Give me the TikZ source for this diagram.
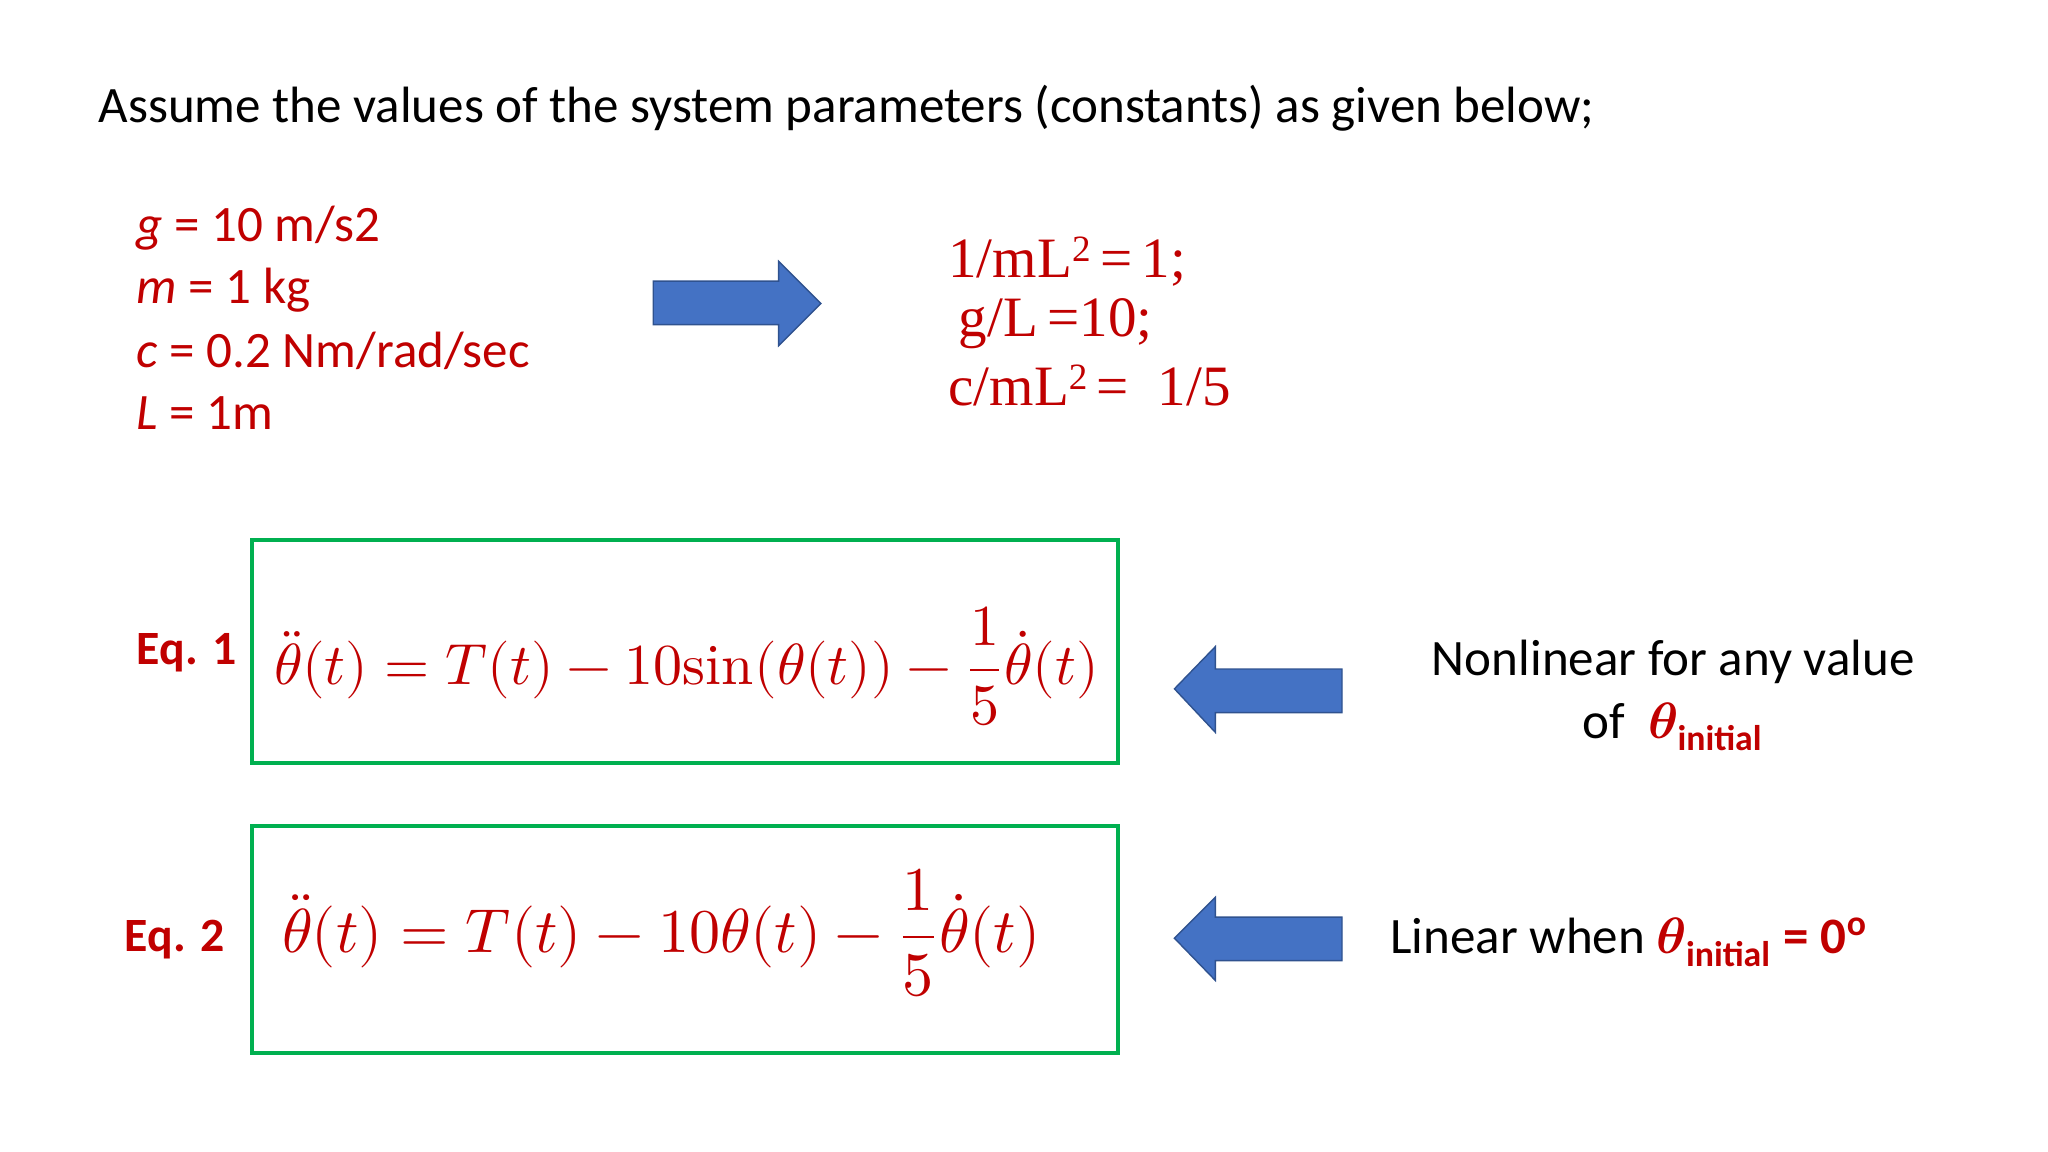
\documentclass[tikz,border=0pt]{standalone}
\usepackage{fontspec}
\setmainfont{Carlito}
\newfontfamily\serifF{Liberation Serif}
\usepackage{unicode-math}
\setmathfont{Latin Modern Math}
\definecolor{dred}{RGB}{192,0,0}
\definecolor{ablue}{RGB}{68,114,196}
\definecolor{bblue}{RGB}{47,82,143}
\definecolor{egreen}{RGB}{0,176,80}
\tikzset{
 px/.style={x=0.01cm,y=-0.01cm},
 eqbox/.style={draw=egreen,line width=0.9pt},
 barrow/.style={fill=ablue,draw=bblue,line width=0.3pt},
 txt/.style={inner sep=0,anchor=west,font=\fontsize{11}{13}\selectfont},
 rtxt/.style={txt,text=dred},
 stxt/.style={rtxt,font=\serifF\fontsize{12.3}{14}\selectfont},
 eqn/.style={inner sep=0,anchor=west,text=dred,font=\fontsize{12.5}{14}\selectfont}
}
\begin{document}
\begin{tikzpicture}[px]
\useasboundingbox (0,0) rectangle (1552,873);
\node[txt] (title) at (74,82) {Assume the values of the system parameters (constants) as given below;};
\node[rtxt] (p1) at (103,173) {\textit{g} = 10 m/s2};
\node[rtxt] (p2) at (103,220) {\textit{m} = 1 kg};
\node[rtxt] (p3) at (103,266) {\textit{c} = 0.2 Nm/rad/sec};
\node[rtxt] (p4) at (103,313) {\textit{L} = 1m};
\draw[barrow] (495,213) -- (590,213) -- (590,198) -- (622,230) -- (590,262) -- (590,246) -- (495,246) -- cycle;
\node[stxt] (v1) at (718,198) {1/mL\raisebox{0.6ex}{\fontsize{8}{9}\selectfont 2}\,=\,1;};
\node[stxt] (v2) at (726,245) {g/L\,=10;};
\node[stxt] (v3) at (718,292) {c/mL\raisebox{0.6ex}{\fontsize{8}{9}\selectfont 2}\,=\ \ 1/5};
\draw[eqbox] (191,409) rectangle (847,578);
\draw[eqbox] (191,626) rectangle (847,798);
\node[rtxt,font=\bfseries\fontsize{10.3}{12}\selectfont] (e1) at (103,495) {Eq. 1};
\node[rtxt,font=\bfseries\fontsize{10.3}{12}\selectfont] (e2) at (94,712) {Eq. 2};
\node[eqn] (q1) at (207,505) {$\ddot\theta(t)=T(t)-10\symup{sin}(\theta(t))-\dfrac{1}{5}\dot\theta(t)$};
\node[eqn,font=\fontsize{13.4}{15}\selectfont] (q2) at (213,707) {$\ddot\theta(t)=T(t)-10\theta(t)-\dfrac{1}{5}\dot\theta(t)$};
\draw[barrow] (1017,507) -- (921,507) -- (921,490) -- (890,522) -- (921,555) -- (921,540) -- (1017,540) -- cycle;
\draw[barrow] (1017,695) -- (921,695) -- (921,680) -- (890,711) -- (921,743) -- (921,728) -- (1017,728) -- cycle;
\node[inner sep=0,align=center,font=\fontsize{11}{13.5}\selectfont] (n1) at (1268,527) {Nonlinear for any value\\of\ \ \textcolor{dred}{$\symbfit{\theta}$\textsubscript{\bfseries initial}}};
\node[txt] (n2) at (1053,714) {Linear when \textcolor{dred}{$\symbfit{\theta}$\textsubscript{\bfseries initial}\ \textbf{= 0\textsuperscript{o}}}};
\end{tikzpicture}
\end{document}
